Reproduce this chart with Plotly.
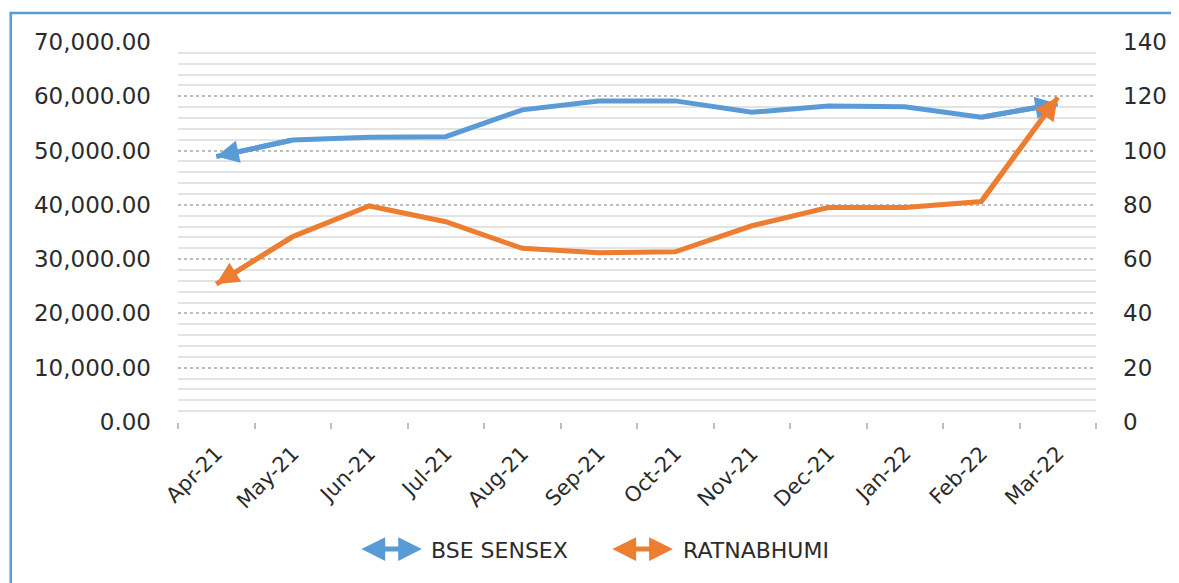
import plotly.graph_objects as go

cats = ["Apr-21", "May-21", "Jun-21", "Jul-21", "Aug-21", "Sep-21",
        "Oct-21", "Nov-21", "Dec-21", "Jan-22", "Feb-22", "Mar-22"]
sensex = [48900, 51950, 52450, 52560, 57500, 59150,
          59150, 57050, 58200, 58080, 56150, 58600]
ratna = [50.8, 68.3, 79.6, 73.8, 64.0, 62.4,
         62.7, 72.3, 79.0, 79.0, 81.2, 119.6]
names = ["BSE SENSEX", "RATNABHUMI"]

BLUE = "#5B9BD5"
ORANGE = "#ED7D31"
TXT = "#2b2b2b"
FONT = "DejaVu Sans"

OFF = 8  # page body margin
W, H = 1171, 575
# plot area in page pixels: x 178..1100, y 42..422
L = 178 - OFF
T = 42 - OFF
R = W - (1100 - OFF)
B = H - (422 - OFF)
PW, PH = W - L - R, H - T - B


def px(xp):
    return (xp - OFF - L) / PW


def py(yp):
    return (H - B - (yp - OFF)) / PH


fig = go.Figure()
fig.add_trace(go.Scatter(x=cats, y=sensex, name=names[0], mode="lines",
                         line=dict(color=BLUE, width=5), yaxis="y",
                         showlegend=False))
fig.add_trace(go.Scatter(x=cats, y=ratna, name=names[1], mode="lines",
                         line=dict(color=ORANGE, width=5), yaxis="y2",
                         showlegend=False))

annotations = []
n = len(cats)
for vals, color, yref in [(sensex, BLUE, "y"), (ratna, ORANGE, "y2")]:
    for tip, tail in [(0, 1), (n - 1, n - 2)]:
        annotations.append(dict(
            x=tip, y=vals[tip], xref="x", yref=yref,
            ax=tail, ay=vals[tail], axref="x", ayref=yref,
            text="", showarrow=True, arrowhead=2, arrowsize=0.9,
            arrowwidth=5, arrowcolor=color, standoff=0))

# legend drawn as double-headed arrows + labels
for (x0, x1, xt), color, name in [((361, 423, 430), BLUE, names[0]),
                                   ((613, 675, 683), ORANGE, names[1])]:
    annotations.append(dict(
        x=px(x1), y=py(549), xref="paper", yref="paper",
        ax=-(x1 - x0), ay=0, text="", showarrow=True,
        arrowhead=2, startarrowhead=2, arrowside="end+start",
        arrowsize=0.95, startarrowsize=0.95, arrowwidth=5,
        arrowcolor=color, standoff=0, startstandoff=0))
    annotations.append(dict(
        x=px(xt), y=py(550), xref="paper", yref="paper",
        text=name, showarrow=False, xanchor="left", yanchor="middle",
        font=dict(family=FONT, size=22, color=TXT)))

fig.update_layout(
    width=W, height=H,
    margin=dict(l=L, r=R, t=T, b=B),
    paper_bgcolor="white", plot_bgcolor="white",
    annotations=annotations,
    shapes=[dict(type="rect", xref="paper", yref="paper",
                 x0=px(10), x1=px(1200), y0=py(620), y1=py(13),
                 line=dict(color=BLUE, width=2.5), layer="below")],
    xaxis=dict(type="category", tickson="boundaries", ticks="outside",
               ticklen=6, tickcolor="#BFBFBF", tickwidth=1.5,
               showline=False, showgrid=False, tickangle=-45,
               tickfont=dict(family=FONT, size=21, color=TXT),
               ticklabelstandoff=14,
               range=[-0.5, n - 0.5]),
    yaxis=dict(range=[0, 70000], dtick=10000, tickformat=",.2f",
               showgrid=True, gridcolor="#BDBDBD", griddash="dot",
               gridwidth=1.5, zeroline=False,
               minor=dict(dtick=2000, showgrid=True, gridcolor="#E3E3E3",
                          griddash="solid", gridwidth=2),
               tickfont=dict(family=FONT, size=23, color=TXT),
               ticklabelstandoff=26),
    yaxis2=dict(range=[0, 140], dtick=20, overlaying="y", side="right",
                showgrid=False, zeroline=False,
                tickfont=dict(family=FONT, size=23, color=TXT),
                ticklabelstandoff=26),
)

fig.write_html("out.html")
